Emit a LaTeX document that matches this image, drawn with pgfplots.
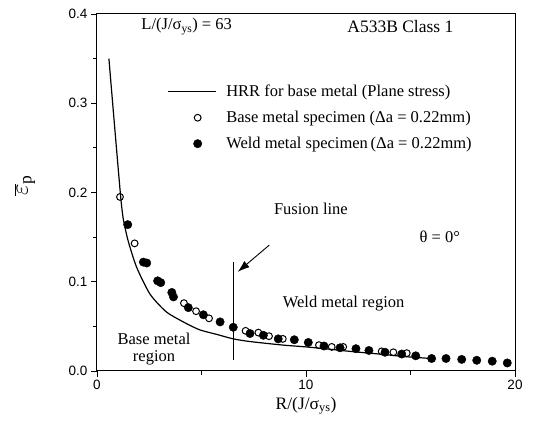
\documentclass[border=0pt]{standalone}
\usepackage{pgfplots}
\pgfplotsset{compat=1.18}
\usepackage{fontspec}
\setmainfont{Liberation Serif}
\newfontfamily\tickfont{Liberation Sans}
\usetikzlibrary{calc,arrows.meta}
\pgfplotsset{
  linelegend/.style={legend image code/.code={\draw[##1] (0pt,0pt) -- (48pt,0pt);}},
  marklegend/.style={legend image code/.code={\draw[##1] plot coordinates {(30pt,0pt)};}},
}
\begin{document}
\begin{tikzpicture}
\begin{axis}[
  scale only axis, width=418pt, height=357pt,
  xmin=0, xmax=20, ymin=0, ymax=0.4,
  xtick={0,10,20}, minor xtick={5,15},
  ytick={0,0.1,0.2,0.3,0.4}, minor ytick={0.05,0.15,0.25,0.35},
  tick align=outside, tick pos=left,
  major tick length=6pt, minor tick length=4pt,
  every tick/.style={black, line width=0.9pt},
  axis line style={line width=1pt},
  /pgf/number format/assume math mode=true,
  yticklabel style={/pgf/number format/.cd, fixed, fixed zerofill, precision=1},
  ticklabel style={font=\tickfont\fontsize{13.5}{15}\selectfont},
  xlabel={R/(J/σ\textsubscript{ys})},
  xlabel style={font=\fontsize{17.5}{20}\selectfont, at={(axis description cs:0.5,-0.063)}, anchor=north},
  ylabel={$\overline{\varepsilon}_{\mathrm{p}}$},
  ylabel style={font=\fontsize{25}{27}\selectfont, at={(axis description cs:-0.172,0.52)}, anchor=center},
  legend style={draw=none, fill=none, at={(axis cs:3.2,0.325)}, anchor=north west,
    font=\fontsize{16.5}{19}\selectfont, row sep=9pt,
    /tikz/every odd column/.append style={column sep=8pt}},
  legend cell align=left,
  clip=false,
]
\addplot[black, line width=1.2pt, smooth, tension=0.4, linelegend] coordinates {
(0.57,0.350) (0.85,0.272) (1.13,0.196) (1.26,0.170) (1.50,0.145) (1.90,0.116)
(2.54,0.086) (3.33,0.066) (4.29,0.053) (4.93,0.046) (5.73,0.041) (6.52,0.036)
(7.32,0.033) (8.91,0.029) (10.0,0.027) (11.3,0.024) (12.1,0.022) (13.5,0.019)
(14.8,0.016) (16.0,0.014)};
\addlegendentry{HRR for base metal (Plane stress)}
\addplot[only marks, mark=o, mark size=3.4pt, black, line width=1pt, marklegend] coordinates {
(1.10,0.195) (1.80,0.143) (4.16,0.076) (4.74,0.067) (5.36,0.059) (7.11,0.045)
(7.72,0.043) (8.23,0.039) (8.89,0.036) (10.62,0.029) (11.23,0.027) (11.78,0.027)
(13.62,0.022) (14.18,0.021) (14.82,0.020)};
\addlegendentry{Base metal specimen (Δa = 0.22mm)}
\addplot[only marks, mark=*, mark size=4.2pt, black, marklegend] coordinates {
(1.47,0.164) (2.22,0.122) (2.38,0.121) (2.90,0.101) (3.05,0.099) (3.58,0.088)
(3.66,0.083) (4.37,0.071) (5.09,0.063) (5.89,0.055) (6.52,0.049) (7.32,0.042)
(7.96,0.040) (8.67,0.036) (9.44,0.035) (10.11,0.032) (10.86,0.028) (11.63,0.026)
(12.39,0.025) (13.01,0.023) (13.78,0.021) (14.58,0.019) (15.25,0.017) (16.01,0.014)
(16.70,0.014) (17.45,0.013) (18.17,0.012) (18.91,0.011) (19.63,0.009)};
\addlegendentry{Weld metal specimen\,(Δa = 0.22mm)}
\draw[line width=0.9pt] (axis cs:6.52,0.012) -- (axis cs:6.52,0.122);
\draw[line width=0.9pt, -{Latex[length=12pt,width=8pt]}] (axis cs:8.24,0.141) -- (axis cs:6.73,0.111);
\node[font=\fontsize{16.5}{19}\selectfont, anchor=west] at (axis cs:1.96,0.386) {L/(J/σ\textsubscript{ys}) = 63};
\node[font=\fontsize{17.5}{20}\selectfont, anchor=east] at (axis cs:17.22,0.386) {A533B Class 1};
\node[font=\fontsize{16.5}{19}\selectfont, anchor=west] at (axis cs:8.3,0.182) {Fusion line};
\node[font=\fontsize{16.5}{19}\selectfont] at (axis cs:16.4,0.150) {θ = 0°};
\node[font=\fontsize{16.5}{19}\selectfont] at (axis cs:11.8,0.076) {Weld metal region};
\node[font=\fontsize{16.5}{19}\selectfont, align=center] at (axis cs:2.73,0.0245) {Base metal\\[-2pt]region};
\coordinate (sw) at (rel axis cs:0,0);
\coordinate (ne) at (rel axis cs:1,1);
\end{axis}
\pgfresetboundingbox
\path ($(sw)+(-97pt,-51pt)$) rectangle ($(ne)+(20pt,14pt)$);
\end{tikzpicture}
\end{document}
